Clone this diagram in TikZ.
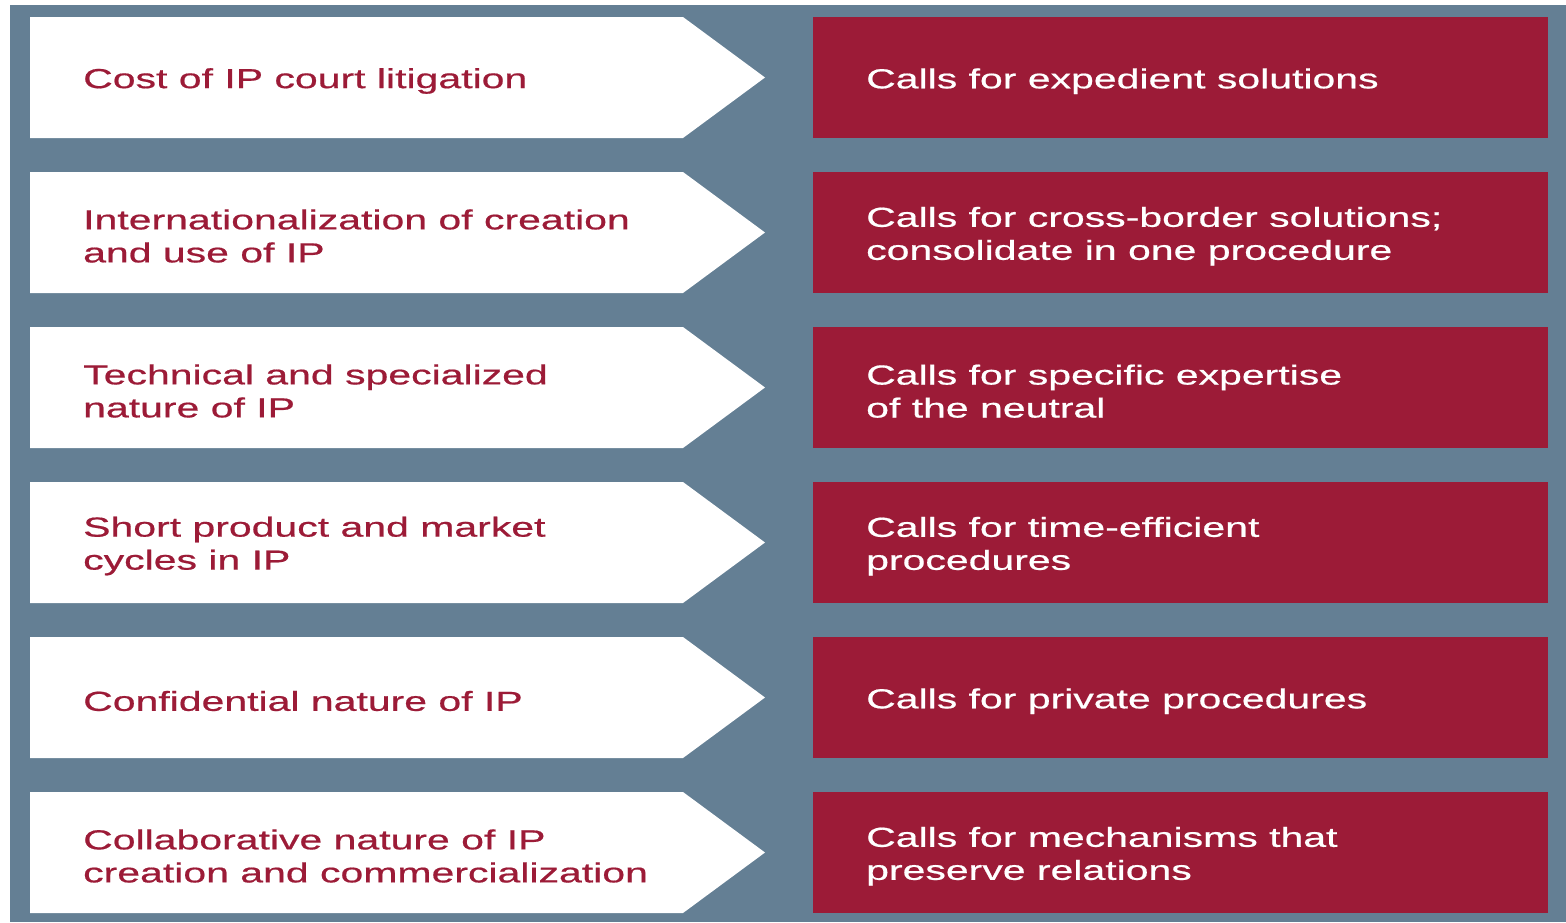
\documentclass[tikz,border=0pt]{standalone}
\usepackage{fontspec}
\setmainfont{Liberation Sans}[FakeStretch=1.49,FakeBold=0.6]
\definecolor{bgslate}{HTML}{647F94}
\definecolor{crim}{HTML}{9C1B37}
\begin{document}
\begin{tikzpicture}[x=1pt,y=-1pt,
  boxtext/.style={anchor=west, align=left, inner sep=0pt, font=\fontsize{27.5}{33}\selectfont},
  lefttext/.style={boxtext, text=crim},
  righttext/.style={boxtext, text=white},
  redbox/.style={fill=crim, draw=none, inner sep=0pt, minimum width=735pt, minimum height=121pt, anchor=north west},
  whitearrow/.style={fill=white, draw=none}]
\useasboundingbox (0,0) rectangle (1566,922);
\fill[white] (0,0) rectangle (1566,922);
\fill[bgslate] (10,5) rectangle (1566,922);
\foreach \i/\lt/\rt in {
  1/{Cost of IP court litigation}/{Calls for expedient solutions},
  2/{Internationalization of creation\\and use of IP}/{Calls for cross-border solutions;\\consolidate in one procedure},
  3/{Technical and specialized\\nature of IP}/{Calls for specific expertise\\of the neutral},
  4/{Short product and market\\cycles in IP}/{Calls for time-efficient\\procedures},
  5/{Confidential nature of IP}/{Calls for private procedures},
  6/{Collaborative nature of IP\\creation and commercialization}/{Calls for mechanisms that\\preserve relations}}{
  \pgfmathsetmacro{\t}{17+155*(\i-1)}
  \pgfmathsetmacro{\m}{\t+60.5}
  \pgfmathsetmacro{\b}{\t+121}
  \fill[whitearrow] (30,\t) -- (683,\t) -- (765,\m) -- (683,\b) -- (30,\b) -- cycle;
  \coordinate (A\i) at (83,\m+3.5);
  \node[lefttext] (L\i) at (A\i) {\lt};
  \node[redbox] (R\i) at (813,\t) {};
  \node[righttext] (T\i) at ([xshift=53pt,yshift=-3.5pt]R\i.west) {\rt};
}
\end{tikzpicture}
\end{document}
